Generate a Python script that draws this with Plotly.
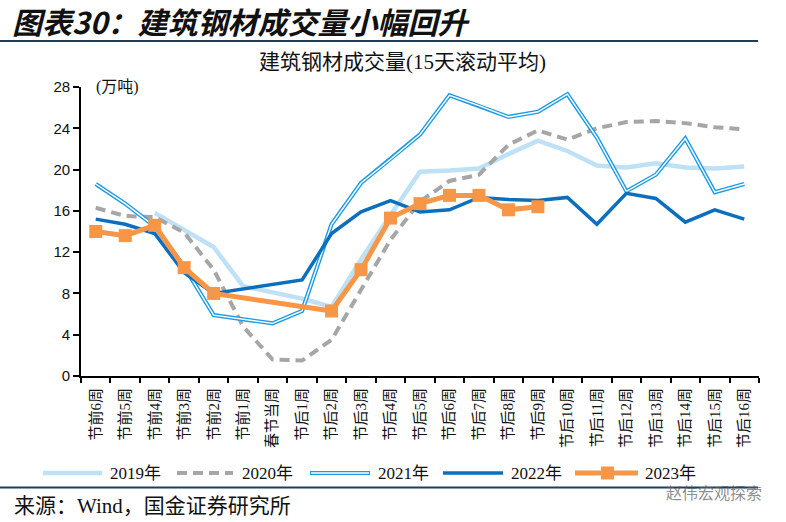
import plotly.graph_objects as go

# ---------------- data ----------------
categories = ["节前6周", "节前5周", "节前4周", "节前3周", "节前2周", "节前1周", "春节当周",
              "节后1周", "节后2周", "节后3周", "节后4周", "节后5周", "节后6周", "节后7周",
              "节后8周", "节后9周", "节后10周", "节后11周", "节后12周", "节后13周",
              "节后14周", "节后15周", "节后16周"]

y2019 = [None, None, 15.8, 14.2, 12.5, 8.7, 8.1, 7.5, 6.7, 11.3, 15.6, 19.8, 19.9, 20.1,
         21.5, 22.8, 21.8, 20.4, 20.2, 20.6, 20.2, 20.1, 20.3]
y2020 = [16.3, 15.5, 15.4, 13.9, 10.3, 4.8, 1.6, 1.5, 3.5, 8.3, 13.2, 16.9, 18.9, 19.5,
         22.4, 23.8, 22.9, 24.0, 24.6, 24.7, 24.5, 24.1, 23.9]
y2021 = [18.6, 16.7, 14.5, 10.6, 5.9, 5.5, 5.1, 6.3, 14.7, 18.7, 21.0, 23.4, 27.2, 26.2,
         25.1, 25.6, 27.3, 23.1, 17.9, 19.5, 23.0, 17.8, 18.6]
y2022 = [15.2, 14.7, 13.8, 10.0, 8.0, None, None, 9.3, 13.8, 15.9, 17.0, 15.9, 16.1, 17.3,
         17.1, 17.0, 17.3, 14.7, 17.7, 17.2, 14.9, 16.1, 15.2]
y2023 = [14.0, 13.6, 14.6, 10.5, 8.0, None, None, None, 6.3, 10.3, 15.3, 16.7, 17.5, 17.5,
         16.1, 16.4, None, None, None, None, None, None, None]

series_names = ["2019年", "2020年", "2021年", "2022年", "2023年"]
y_ticks = [0, 4, 8, 12, 16, 20, 24, 28]

# ---------------- styles ----------------
C2019 = "#BEE1F6"
C2020 = "#A6A6A6"
C2021 = "#1E9BE3"
C2022 = "#0B6FBE"
C2023 = "#F79646"
NAVY = "#1C3F5E"
SERIF = "Liberation Serif, Noto Sans CJK SC, serif"
SANS = "Liberation Sans, Arial, sans-serif"

W, H = 786, 522
PL, PR, PT, PB = 81, 759, 87, 376  # plot area pixels


def px(x):
    return (x - PL) / (PR - PL)


def py(y):
    return (PB - y) / (PB - PT)


fig = go.Figure()

fig.add_trace(go.Scatter(x=categories, y=y2019, name=series_names[0], mode="lines",
                         line=dict(color=C2019, width=4.5), connectgaps=False))
fig.add_trace(go.Scatter(x=categories, y=y2020, name=series_names[1], mode="lines",
                         line=dict(color=C2020, width=4, dash="10px,6px")))
fig.add_trace(go.Scatter(x=categories, y=y2021, name=series_names[2], mode="lines",
                         line=dict(color=C2021, width=4.2)))
fig.add_trace(go.Scatter(x=categories, y=y2021, name=series_names[2], mode="lines",
                         line=dict(color="white", width=1.4), hoverinfo="skip",
                         showlegend=False))
fig.add_trace(go.Scatter(x=categories, y=y2022, name=series_names[3], mode="lines",
                         line=dict(color=C2022, width=3.5), connectgaps=True))
fig.add_trace(go.Scatter(x=categories, y=y2023, name=series_names[4], mode="lines+markers",
                         line=dict(color=C2023, width=5), connectgaps=True,
                         marker=dict(symbol="square", size=13, color=C2023)))

shapes = []
annotations = []

# header
annotations.append(dict(xref="paper", yref="paper", x=px(10), y=py(21), xanchor="left",
                        yanchor="middle", showarrow=False,
                        text="<b><i>图表30：建筑钢材成交量小幅回升</i></b>",
                        font=dict(family="Noto Sans CJK SC, sans-serif", size=30, color="#111")))
shapes.append(dict(type="line", xref="paper", yref="paper", x0=px(0), x1=px(758),
                   y0=py(41), y1=py(41), line=dict(color=NAVY, width=2)))
# chart title
annotations.append(dict(xref="paper", yref="paper", x=px(402), y=py(62), xanchor="center",
                        yanchor="middle", showarrow=False,
                        text="建筑钢材成交量(15天滚动平均)",
                        font=dict(family=SERIF, size=21, color="#111")))
# unit
annotations.append(dict(xref="paper", yref="paper", x=px(94), y=py(87), xanchor="left",
                        yanchor="middle", showarrow=False, text="(万吨)",
                        font=dict(family=SERIF, size=16, color="#111")))

# manual legend
leg_y = 473
items = [
    (43, 102, 108, "solid", C2019, 4.5),
    (177, 233, 240, "10px,6px", C2020, 4),
    (310, 370, 376, "solid", C2021, 4.2),
    (443, 503, 509, "solid", C2022, 3.5),
    (575, 638, 643, "solid", C2023, 5),
]
for (x0, x1, tx, dash, col, w), nm in zip(items, series_names):
    shapes.append(dict(type="line", xref="paper", yref="paper", x0=px(x0), x1=px(x1),
                       y0=py(leg_y), y1=py(leg_y), line=dict(color=col, width=w, dash=dash)))
    if nm == "2021年":
        shapes.append(dict(type="line", xref="paper", yref="paper", x0=px(x0 + 1), x1=px(x1 - 1),
                           y0=py(leg_y), y1=py(leg_y), line=dict(color="white", width=1.4)))
    if nm == "2023年":
        shapes.append(dict(type="rect", xref="paper", yref="paper", x0=px(601), x1=px(614),
                           y0=py(479.5), y1=py(466.5), fillcolor=col, line=dict(width=0)))
    annotations.append(dict(xref="paper", yref="paper", x=px(tx), y=py(leg_y), xanchor="left",
                            yanchor="middle", showarrow=False, text=nm,
                            font=dict(family=SERIF, size=17, color="#111")))

# bottom line and source
shapes.append(dict(type="line", xref="paper", yref="paper", x0=px(0), x1=px(758),
                   y0=py(487.5), y1=py(487.5), line=dict(color=NAVY, width=2)))
annotations.append(dict(xref="paper", yref="paper", x=px(12), y=py(506), xanchor="left",
                        yanchor="middle", showarrow=False, text="来源：Wind，国金证券研究所",
                        font=dict(family=SERIF, size=21, color="#111")))
# watermark
annotations.append(dict(xref="paper", yref="paper", x=px(764), y=py(492), xanchor="right",
                        yanchor="middle", showarrow=False, text="赵伟宏观探索",
                        font=dict(family="Noto Sans CJK SC, sans-serif", size=16,
                                  color="rgba(90,90,90,0.7)")))

fig.update_layout(
    width=W, height=H,
    margin=dict(l=PL, r=W - PR, t=PT, b=H - PB),
    paper_bgcolor="white", plot_bgcolor="white",
    showlegend=False,
    shapes=shapes, annotations=annotations,
    xaxis=dict(type="category", range=[-0.5, len(categories) - 0.5], tickangle=-90,
               tickfont=dict(family=SERIF, size=15, color="#111"),
               ticks="outside", ticklen=5, tickwidth=1.5, tickcolor="black",
               tickson="boundaries", showline=True, linecolor="black", linewidth=1.8,
               showgrid=False, zeroline=False, ticklabelstandoff=4),
    yaxis=dict(range=[0, 28], tickvals=y_ticks, ticks="outside", ticklen=6, tickwidth=1.5,
               tickcolor="black", showline=True, linecolor="black", linewidth=1.8,
               showgrid=False, zeroline=False,
               tickfont=dict(family=SANS, size=15, color="#111")),
)

fig.write_html("out.html", config={"displayModeBar": False},
               post_script="document.body.style.margin='0';document.body.style.padding='0';")
